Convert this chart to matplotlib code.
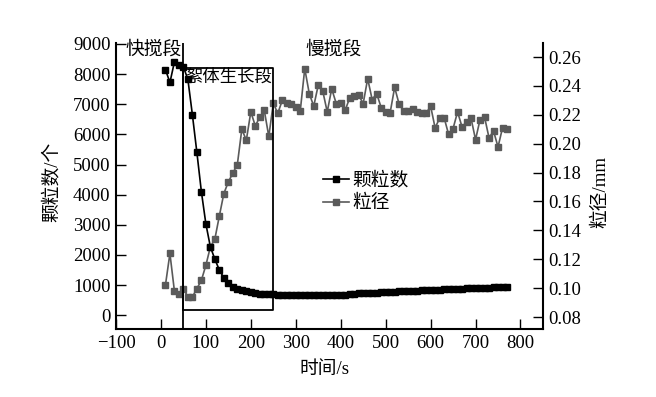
import matplotlib
matplotlib.use("Agg")
import matplotlib.pyplot as plt

plt.rcParams["font.family"] = ["Liberation Serif", "Noto Sans CJK SC"]
plt.rcParams["font.size"] = 13.5

# 时间 (s)
times = [10, 20, 30, 40, 50, 60, 70, 80, 90, 100,
         110, 120, 130, 140, 150, 160, 170, 180, 190, 200,
         210, 220, 230, 240, 250, 260, 270, 280, 290, 300,
         310, 320, 330, 340, 350, 360, 370, 380, 390, 400,
         410, 420, 430, 440, 450, 460, 470, 480, 490, 500,
         510, 520, 530, 540, 550, 560, 570, 580, 590, 600,
         610, 620, 630, 640, 650, 660, 670, 680, 690, 700,
         710, 720, 730, 740, 750, 760, 770]

# 颗粒数 (个)
counts = [8150, 7720, 8400, 8300, 8240, 7820, 6650, 5400, 4100, 3030,
          2270, 1860, 1500, 1240, 1060, 950, 880, 830, 790, 760,
          740, 720, 705, 695, 690, 680, 675, 670, 668, 665,
          665, 660, 662, 660, 665, 660, 662, 665, 670, 672,
          680, 700, 720, 725, 735, 745, 740, 755, 765, 760,
          775, 780, 790, 795, 805, 810, 815, 825, 835, 840,
          845, 850, 860, 865, 870, 880, 885, 890, 900, 905,
          910, 915, 920, 930, 935, 935, 940]

# 粒径 (mm)
sizes = [0.102, 0.124, 0.098, 0.0957, 0.0997, 0.0939, 0.0939, 0.0997, 0.1054, 0.1158,
         0.1285, 0.134, 0.150, 0.1655, 0.1735, 0.1797, 0.1855, 0.210, 0.2024, 0.222,
         0.2123, 0.2185, 0.223, 0.205, 0.228, 0.221, 0.230, 0.2285, 0.2275, 0.2255,
         0.2227, 0.252, 0.2347, 0.226, 0.2405, 0.2365, 0.222, 0.238, 0.2278, 0.228,
         0.2232, 0.2317, 0.2328, 0.2335, 0.2278, 0.245, 0.2305, 0.2347, 0.225, 0.222,
         0.2215, 0.239, 0.2273, 0.2227, 0.2227, 0.2237, 0.222, 0.2213, 0.221, 0.226,
         0.211, 0.2175, 0.218, 0.2065, 0.2105, 0.222, 0.2115, 0.215, 0.2175, 0.2028,
         0.2167, 0.2185, 0.204, 0.2088, 0.1977, 0.211, 0.210]

x_ticks = [-100, 0, 100, 200, 300, 400, 500, 600, 700, 800]
y_ticks = [0, 1000, 2000, 3000, 4000, 5000, 6000, 7000, 8000, 9000]
y2_ticks = [0.08, 0.10, 0.12, 0.14, 0.16, 0.18, 0.20, 0.22, 0.24, 0.26]

# 絮体生长段的框
box_x = [50, 250]
box_y = [190, 8200]

fig = plt.figure(figsize=(6.56, 3.97), dpi=100)
ax = fig.add_axes([0.1768, 0.1713, 0.6509, 0.7204])
ax2 = ax.twinx()

# 颗粒数在上层
ax.set_zorder(ax2.get_zorder() + 1)
ax.patch.set_visible(False)

l1, = ax.plot(times, counts, color="black", marker="s", markersize=4.5,
              linewidth=1.2, label="颗粒数")
l2, = ax2.plot(times, sizes, color="#5a5a5a", marker="s", markersize=4.5,
               linewidth=1.2, label="粒径")

ax.axvline(box_x[0], color="black", linewidth=1.3)
ax.plot([box_x[0], box_x[0], box_x[1], box_x[1], box_x[0]],
        [box_y[0], box_y[1], box_y[1], box_y[0], box_y[0]],
        color="black", linewidth=1.3)

ax.set_xlim(-100, 850)
ax.set_ylim(-455, 9030)
ax2.set_ylim(0.0717, 0.2697)
ax.set_xticks(x_ticks)
ax.set_yticks(y_ticks)
ax2.set_yticks(y2_ticks)
ax2.set_yticklabels(["%.2f" % v for v in y2_ticks])

for a in (ax, ax2):
    a.spines["top"].set_visible(False)
    for s in a.spines.values():
        s.set_linewidth(1.5)
    a.tick_params(direction="in", length=7.5, width=1, pad=4)
ax.spines["right"].set_visible(False)
ax2.spines["left"].set_visible(False)
ax2.spines["bottom"].set_visible(False)

ax.text(-16, 8800, "快搅段", ha="center", va="center")
ax.text(151, 7870, "絮体生长段", ha="center", va="center", fontsize=12.5)
ax.text(384, 8800, "慢搅段", ha="center", va="center")

ax.set_ylabel("颗粒数/个")
ax.yaxis.set_label_coords(-0.129, 0.514)
ax2.set_ylabel("粒径/mm")
ax2.yaxis.set_label_coords(1.115, 0.479)
ax.set_xlabel("时间/s")
ax.xaxis.set_label_coords(0.489, -0.112)

ax.legend(handles=[l1, l2], loc="center left", bbox_to_anchor=(0.485, 0.479),
          frameon=False, borderpad=0, borderaxespad=0, handlelength=1.4,
          handletextpad=0.15, labelspacing=0.3)

fig.savefig("out.png", dpi=100)
